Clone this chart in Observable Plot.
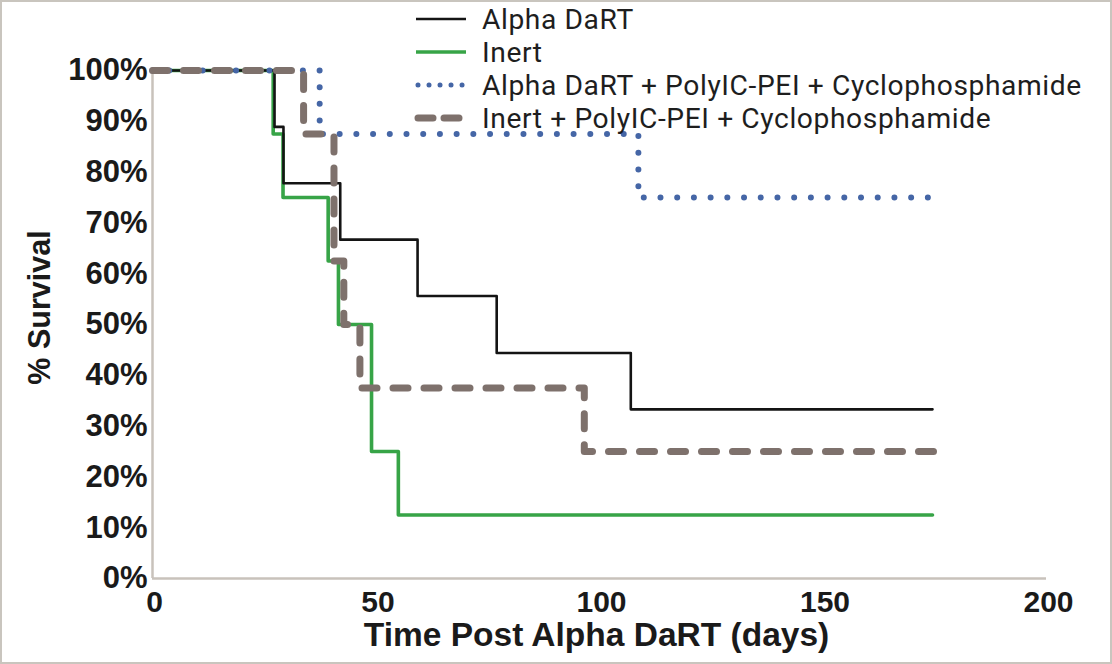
<!DOCTYPE html>
<html><head><meta charset="utf-8">
<script src="https://cdn.jsdelivr.net/npm/d3@7"></script>
<script src="https://cdn.jsdelivr.net/npm/@observablehq/plot@0.6"></script>
<style>
html,body{margin:0;padding:0;background:#fff;}
#wrap{position:relative;width:1112px;height:664px;overflow:hidden;background:#fff;}
#border{position:absolute;left:0;top:0;width:1112px;height:664px;box-sizing:border-box;border:2.5px solid #c9c5be;pointer-events:none;}
#legend{position:absolute;left:414px;top:2.5px;font-family:Roboto,"Liberation Sans",sans-serif;font-size:28.2px;letter-spacing:0.6px;line-height:27px;color:#1e1e1e;}
.row{height:33px;display:flex;align-items:center;white-space:nowrap;}
.row span{line-height:27px;display:inline-block;}
.row svg{width:56px;height:20px;margin-right:12px;flex:none}
</style></head><body>
<div id="wrap"><div id="chart"></div><div id="legend"></div><div id="border"></div></div>
<script>
// ---- data ----
const seriesNames = ["Alpha DaRT", "Inert", "Alpha DaRT + PolyIC-PEI + Cyclophosphamide", "Inert + PolyIC-PEI + Cyclophosphamide"];
const alphaDays = [0, 27.3, 29.3, 42, 59.3, 77, 107, 174.5];
const alphaSurv = [100, 88.9, 77.8, 66.7, 55.6, 44.4, 33.3, 33.3];
const inertDays = [0, 27, 29.2, 39.3, 41.6, 49, 55, 174.5];
const inertSurv = [100, 87.5, 75, 62.5, 50, 25, 12.5, 12.5];
const alphaComboDays = [0, 37.4, 108.7, 176.3];
const alphaComboSurv = [100, 87.5, 75, 75];
const inertComboDays = [0, 33.8, 40.6, 42.8, 46.4, 96.6, 175.2];
const inertComboSurv = [100, 87.5, 62.5, 50, 37.5, 25, 25];
const xTicks = [0, 50, 100, 150, 200];
const yTicks = [0, 10, 20, 30, 40, 50, 60, 70, 80, 90, 100];
const xTitle = "Time Post Alpha DaRT (days)";
const yTitle = "% Survival";

// ---- styles ----
const styles = [
  {stroke: "#141414", strokeWidth: 2.6},
  {stroke: "#37a447", strokeWidth: 3.6},
  {stroke: "#4566a6", strokeWidth: 6, strokeDasharray: "0.01 16.7", strokeLinecap: "round"},
  {stroke: "#7e716c", strokeWidth: 7, strokeDasharray: "15 16", strokeLinecap: "round"}
];
const axisColor = "#c8c2bb";

const table = (days, surv) => days.map((d, i) => ({day: d, surv: surv[i]}));
const sets = [table(alphaDays, alphaSurv), table(inertDays, inertSurv), table(alphaComboDays, alphaComboSurv), table(inertComboDays, inertComboSurv)];
const drawOrder = [1, 0, 2, 3];

const chart = Plot.plot({
  width: 1112, height: 664,
  marginLeft: 152, marginRight: 66, marginTop: 70, marginBottom: 86,
  x: {domain: [0, 200]},
  y: {domain: [0, 100]},
  style: {fontFamily: "'Liberation Sans', Arial, sans-serif", fontSize: "30px", fontWeight: "bold", color: "#1a1a1a", background: "#fff", overflow: "visible"},
  marks: [
    Plot.axisX({ticks: xTicks, tickSize: 0, tickPadding: 12, label: null, dx: 2, fontSize: 30}),
    Plot.axisY({ticks: yTicks, tickSize: 0, tickPadding: 5, tickFormat: d => d + "%", label: null, fontSize: 31}),
    Plot.ruleY([0], {stroke: axisColor, strokeWidth: 2.5}),
    Plot.ruleX([0], {stroke: axisColor, strokeWidth: 2.5}),
    ...drawOrder.map(i => Plot.line(sets[i], {x: "day", y: "surv", curve: "step-after", ...styles[i]})),
    Plot.text([yTitle], {frameAnchor: "left", dx: -112, dy: -17, rotate: -90, textAnchor: "middle", fontSize: 30.5, fontWeight: "bold", fill: "#1a1a1a"}),
    Plot.text([xTitle], {frameAnchor: "bottom", dy: 57, dx: -3, textAnchor: "middle", lineAnchor: "middle", fontSize: 33.5, fontWeight: "bold", fill: "#1a1a1a"})
  ]
});
document.getElementById("chart").appendChild(chart);

// ---- legend ----
const legend = document.getElementById("legend");
seriesNames.forEach((name, i) => {
  const s = styles[i];
  const row = document.createElement("div");
  row.className = "row";
  const dash = i === 2 ? "0.01 11" : (i === 3 ? "15 11" : "none");
  row.innerHTML = `<svg viewBox="0 0 56 20"><line x1="${i===2?4:(i===3?4:2)}" y1="10" x2="${i===3?50:52}" y2="10" stroke="${s.stroke}" stroke-width="${i===2?5:(i===3?7:s.strokeWidth)}" stroke-linecap="${s.strokeLinecap||'butt'}" ${dash!=="none"?`stroke-dasharray="${dash}"`:""}/></svg><span>${name}</span>`;
  legend.appendChild(row);
});
</script>
</body></html>
